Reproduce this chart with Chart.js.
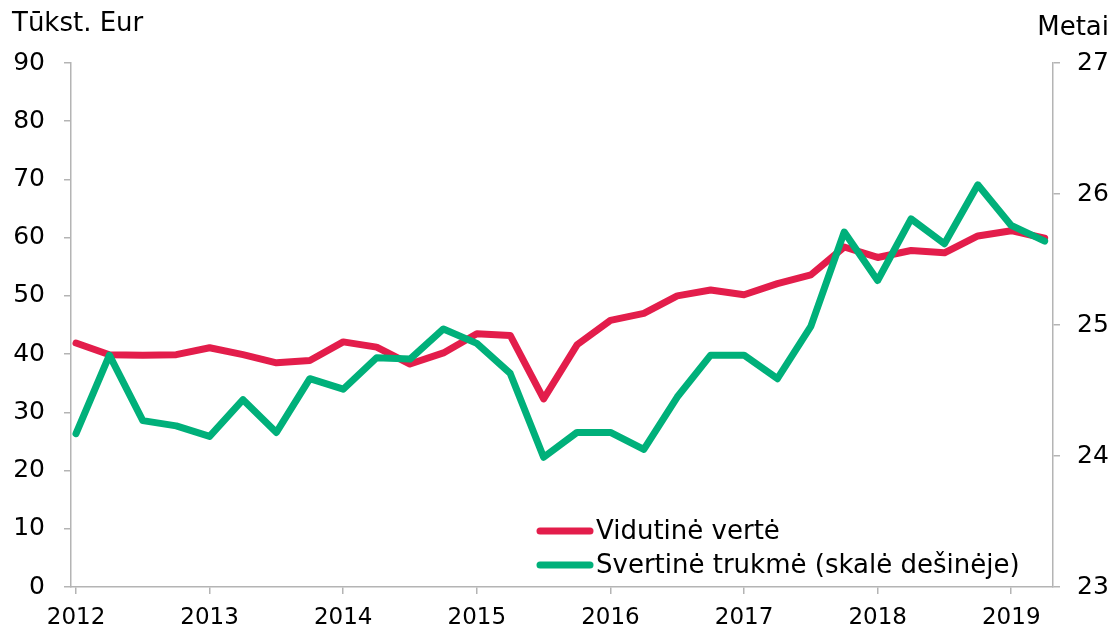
<!DOCTYPE html>
<html>
<head>
<meta charset="utf-8">
<script src="https://cdn.jsdelivr.net/npm/chart.js@4"></script>
<style>
  html, body { margin: 0; padding: 0; background: #fff; }
  #wrap { width: 1117px; height: 631px; }
</style>
</head>
<body>
<div id="wrap"><canvas id="lineChart" width="1117" height="631"></canvas></div>
<script>
// quarterly data, 2012 Q1 .. 2019 Q2
var quarters = ['2012 Q1','2012 Q2','2012 Q3','2012 Q4','2013 Q1','2013 Q2','2013 Q3','2013 Q4',
                '2014 Q1','2014 Q2','2014 Q3','2014 Q4','2015 Q1','2015 Q2','2015 Q3','2015 Q4',
                '2016 Q1','2016 Q2','2016 Q3','2016 Q4','2017 Q1','2017 Q2','2017 Q3','2017 Q4',
                '2018 Q1','2018 Q2','2018 Q3','2018 Q4','2019 Q1','2019 Q2'];
var yearLabels = ['2012','2013','2014','2015','2016','2017','2018','2019'];

// Vidutinė vertė, tūkst. Eur (left axis)
var avgValue = [41.9, 39.9, 39.8, 39.9, 41.1, 39.9, 38.5, 38.9, 42.1, 41.2, 38.3, 40.2, 43.5, 43.2, 32.3,
                41.6, 45.8, 47.0, 50.0, 51.0, 50.2, 52.1, 53.6, 58.4, 56.6, 57.8, 57.4, 60.3, 61.2, 59.9];
// Svertinė trukmė, metai (right axis)
var wDuration = [24.17, 24.77, 24.27, 24.23, 24.15, 24.43, 24.18, 24.59, 24.51, 24.75, 24.74, 24.97, 24.86, 24.63, 23.99,
                 24.18, 24.18, 24.05, 24.45, 24.77, 24.77, 24.59, 24.99, 25.71, 25.34, 25.81, 25.62, 26.07, 25.76, 25.64];

var seriesNames = ['Vidutinė vertė', 'Svertinė trukmė (skalė dešinėje)'];
var red = '#e31d4b';
var green = '#00b07a';
var axisGrey = '#b4b4b4';
var fontFam = '"DejaVu Sans", Verdana, sans-serif';

function toPoints(arr) {
    return arr.map(function (v, i) { return { x: i, y: v }; });
}

// titles and legend drawn on the canvas
var extras = {
    id: 'extras',
    afterDraw: function (chart) {
        var ctx = chart.ctx;
        ctx.save();
        ctx.fillStyle = '#000';
        ctx.font = '26px ' + fontFam;
        ctx.textBaseline = 'alphabetic';
        ctx.textAlign = 'left';
        ctx.fillText('Tūkst. Eur', 12, 31);
        ctx.textAlign = 'right';
        ctx.fillText('Metai', 1109, 35);

        // legend
        var items = chart.data.datasets;
        var ys = [531, 565];
        ctx.textAlign = 'left';
        ctx.textBaseline = 'middle';
        for (var i = 0; i < items.length; i++) {
            ctx.strokeStyle = items[i].borderColor;
            ctx.lineWidth = 7;
            ctx.lineCap = 'round';
            ctx.beginPath();
            ctx.moveTo(540, ys[i]);
            ctx.lineTo(590, ys[i]);
            ctx.stroke();
            ctx.fillStyle = '#000';
            ctx.fillText(items[i].label, 596, ys[i] + 1);
        }
        ctx.restore();
    }
};

var ctx = document.getElementById('lineChart').getContext('2d');
var lineChart = new Chart(ctx, {
    type: 'line',
    data: {
        datasets: [{
            label: seriesNames[0],
            data: toPoints(avgValue),
            borderColor: red,
            backgroundColor: red,
            yAxisID: 'y',
            order: 1
        }, {
            label: seriesNames[1],
            data: toPoints(wDuration),
            borderColor: green,
            backgroundColor: green,
            yAxisID: 'y1',
            order: 0
        }]
    },
    options: {
        responsive: false,
        animation: false,
        layout: { padding: { top: 63, left: 0, right: 0, bottom: 0 } },
        elements: {
            line: { borderWidth: 7, tension: 0, borderJoinStyle: 'round', borderCapStyle: 'round' },
            point: { radius: 0 }
        },
        plugins: {
            legend: { display: false },
            tooltip: { enabled: false }
        },
        scales: {
            x: {
                type: 'linear',
                min: -0.15,
                max: 29.25,
                afterBuildTicks: function (scale) {
                    scale.ticks = yearLabels.map(function (y, i) { return { value: i * 4 }; });
                },
                afterFit: function (scale) { scale.height = 44; },
                ticks: {
                    autoSkip: false,
                    maxRotation: 0,
                    padding: 10,
                    color: '#000',
                    font: { family: fontFam, size: 23 },
                    callback: function (v) { return yearLabels[Math.round(v / 4)]; }
                },
                grid: { drawOnChartArea: false, drawTicks: true, tickLength: 7, color: axisGrey, lineWidth: 1.5 },
                border: { color: axisGrey, width: 1.5 }
            },
            y: {
                position: 'left',
                min: 0,
                max: 90,
                afterFit: function (scale) { scale.width = 71; },
                ticks: {
                    stepSize: 10,
                    padding: 19,
                    color: '#000',
                    font: { family: fontFam, size: 25 }
                },
                grid: { drawOnChartArea: false, drawTicks: true, tickLength: 7, color: axisGrey, lineWidth: 1.5 },
                border: { color: axisGrey, width: 1.5 }
            },
            y1: {
                position: 'right',
                min: 23,
                max: 27,
                afterFit: function (scale) { scale.width = 64; },
                ticks: {
                    stepSize: 1,
                    padding: 17,
                    color: '#000',
                    font: { family: fontFam, size: 25 }
                },
                grid: { drawOnChartArea: false, drawTicks: true, tickLength: 7, color: axisGrey, lineWidth: 1.5 },
                border: { color: axisGrey, width: 1.5 }
            }
        }
    },
    plugins: [extras]
});
</script>
</body>
</html>
